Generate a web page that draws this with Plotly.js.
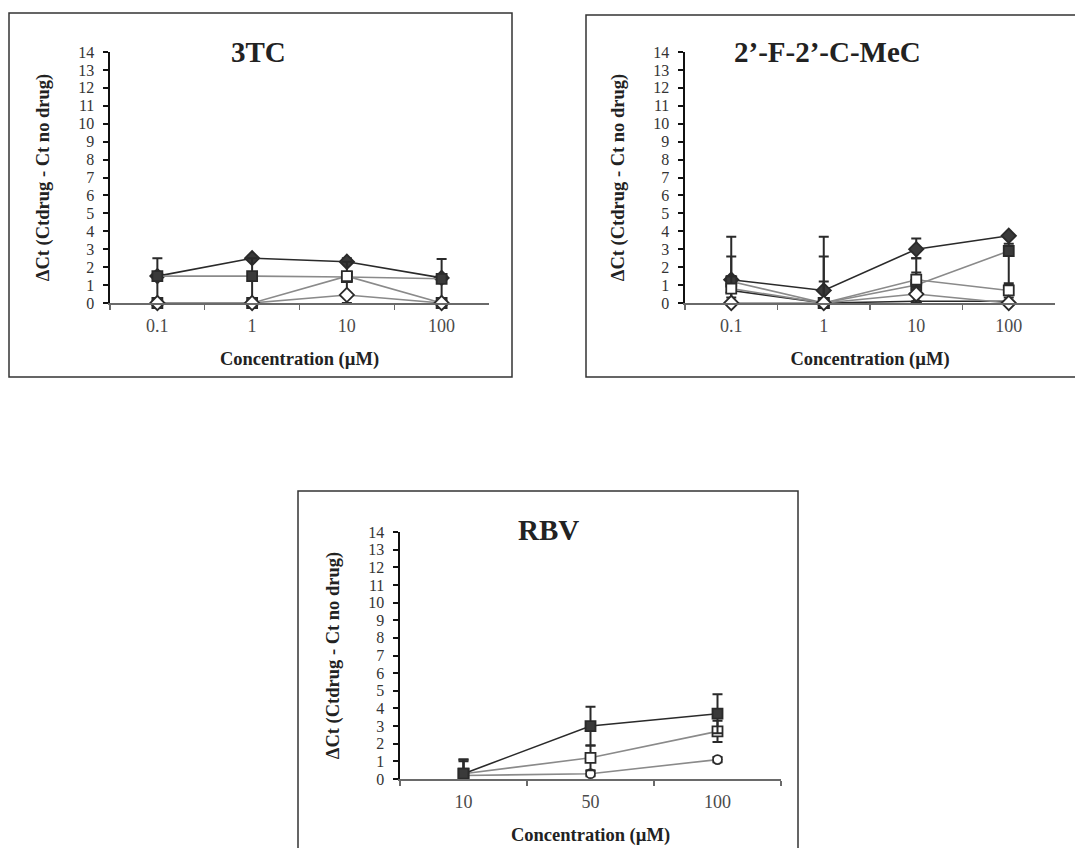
<!DOCTYPE html>
<html><head><meta charset="utf-8">
<script src="https://cdn.plot.ly/plotly-3.0.1.min.js"></script>
<style>html,body{margin:0;padding:0;background:#fff}#chart{width:1075px;height:848px}</style>
</head><body><div id="chart"></div>
<script>
// ---------- categories / tick labels ----------
const conc3TC = ['0.1', '1', '10', '100'];
const concMeC = ['0.1', '1', '10', '100'];
const concRBV = ['10', '50', '100'];

// ---------- panel titles ----------
const title3TC = '3TC';
const titleMeC = '2\u2019-F-2\u2019-C-MeC';
const titleRBV = 'RBV';
const yTitle = '\u0394Ct (Ctdrug - Ct no drug)';
const xTitle = 'Concentration (\u00b5M)';

// ---------- 3TC series ----------
const tc_diamondFilled = [1.5, 2.5, 2.3, 1.4];
const tc_diamondFilled_ep = [0, 0, 0.2, 0];
const tc_diamondFilled_em = [0, 0, 0, 0];
const tc_squareFilled = [1.5, 1.5, 1.45, 1.35];
const tc_squareFilled_ep = [1.0, 1.0, 0.85, 1.1];
const tc_squareFilled_em = [1.5, 1.5, 1.0, 1.35];
const tc_squareOpen = [0, 0, 1.5, 0];
const tc_squareOpen_ep = [0, 0, 0, 0];
const tc_squareOpen_em = [0, 0, 0, 0];
const tc_diamondOpen = [0, 0, 0.45, 0];
const tc_diamondOpen_ep = [0, 0, 0, 0];
const tc_diamondOpen_em = [0, 0, 0.45, 0];

// ---------- 2'-F-2'-C-MeC series ----------
const mc_diamondFilled = [1.3, 0.7, 3.0, 3.75];
const mc_diamondFilled_ep = [2.4, 3.0, 0.6, 0];
const mc_diamondFilled_em = [0, 0, 0.5, 0];
const mc_squareFilled = [1.2, 0, 1.0, 2.9];
const mc_squareFilled_ep = [1.4, 2.6, 1.5, 0.4];
const mc_squareFilled_em = [1.2, 0, 1.0, 1.9];
const mc_triangleFilled = [0.7, 0, 0.1, 0.1];
const mc_triangleFilled_ep = [0, 1.2, 0, 0];
const mc_triangleFilled_em = [0, 0, 0, 0];
const mc_squareOpen = [0.8, 0, 1.3, 0.7];
const mc_squareOpen_ep = [0.7, 0, 0.4, 0.4];
const mc_squareOpen_em = [0.5, 0, 0.4, 0.4];
const mc_diamondOpen = [0, 0, 0.5, 0];
const mc_diamondOpen_ep = [0, 0, 0, 0];
const mc_diamondOpen_em = [0, 0, 0.5, 0];

// ---------- RBV series ----------
const rb_squareFilled = [0.3, 3.0, 3.7];
const rb_squareFilled_ep = [0.8, 1.1, 1.1];
const rb_squareFilled_em = [0.3, 1.1, 1.1];
const rb_squareOpen = [0.3, 1.2, 2.7];
const rb_squareOpen_ep = [0.7, 0.7, 0.6];
const rb_squareOpen_em = [0.3, 0.7, 0.6];
const rb_circleOpen = [0.2, 0.3, 1.1];
const rb_circleOpen_ep = [0.9, 0.15, 0.15];
const rb_circleOpen_em = [0.2, 0.15, 0.15];

// ---------- styling ----------
const FONT = '"Liberation Serif", "Times New Roman", Times, serif';
const DARK = '#2a2a2a';
const GRAY = '#8a8a8a';

function mk(x, y, ep, em, xa, ya, symbol, filled, lineColor, size) {
  return {
    type: 'scatter', mode: 'lines+markers', x: x, y: y,
    xaxis: xa, yaxis: ya, cliponaxis: false, showlegend: false,
    line: {color: lineColor, width: 1.6},
    marker: {symbol: symbol, size: size || 10, color: filled ? '#3a3a3a' : '#ffffff',
             line: {color: DARK, width: 1.8}},
    error_y: {type: 'data', symmetric: false, array: ep, arrayminus: em,
              color: DARK, thickness: 2, width: 5}
  };
}

const traces = [
  // 3TC
  mk(conc3TC, tc_diamondFilled, tc_diamondFilled_ep, tc_diamondFilled_em, 'x', 'y', 'diamond', true, DARK, 11),
  mk(conc3TC, tc_squareFilled, tc_squareFilled_ep, tc_squareFilled_em, 'x', 'y', 'square', true, GRAY),
  mk(conc3TC, tc_squareOpen, tc_squareOpen_ep, tc_squareOpen_em, 'x', 'y', 'square', false, GRAY),
  mk(conc3TC, tc_diamondOpen, tc_diamondOpen_ep, tc_diamondOpen_em, 'x', 'y', 'diamond', false, GRAY, 11),
  // 2'-F-2'-C-MeC
  mk(concMeC, mc_diamondFilled, mc_diamondFilled_ep, mc_diamondFilled_em, 'x2', 'y2', 'diamond', true, DARK, 11),
  mk(concMeC, mc_squareFilled, mc_squareFilled_ep, mc_squareFilled_em, 'x2', 'y2', 'square', true, GRAY),
  mk(concMeC, mc_triangleFilled, mc_triangleFilled_ep, mc_triangleFilled_em, 'x2', 'y2', 'triangle-up', true, DARK, 9),
  mk(concMeC, mc_squareOpen, mc_squareOpen_ep, mc_squareOpen_em, 'x2', 'y2', 'square', false, GRAY),
  mk(concMeC, mc_diamondOpen, mc_diamondOpen_ep, mc_diamondOpen_em, 'x2', 'y2', 'diamond', false, GRAY, 11),
  // RBV
  mk(concRBV, rb_circleOpen, rb_circleOpen_ep, rb_circleOpen_em, 'x3', 'y3', 'circle', false, GRAY, 9),
  mk(concRBV, rb_squareOpen, rb_squareOpen_ep, rb_squareOpen_em, 'x3', 'y3', 'square', false, GRAY),
  mk(concRBV, rb_squareFilled, rb_squareFilled_ep, rb_squareFilled_em, 'x3', 'y3', 'square', true, DARK)
];

const W = 1075, H = 848;
const px = v => v / W;
const py = v => 1 - v / H;

function xAx(dom, n, anchor) {
  return {
    domain: dom, anchor: anchor, type: 'category', range: [-0.5, n - 0.5],
    showline: true, linecolor: '#6a6a6a', linewidth: 1.5,
    ticks: 'outside', tickson: 'boundaries', ticklen: 5, tickcolor: '#6a6a6a', tickwidth: 1.2,
    showgrid: false, zeroline: false, ticklabelstandoff: 6,
    tickfont: {family: FONT, size: 18, color: '#4a4a4a'},
    title: {text: '<b>' + xTitle + '</b>', standoff: 17, font: {family: FONT, size: 18.5, color: '#222'}},
    fixedrange: true
  };
}
function yAx(dom, anchor) {
  return {
    domain: dom, anchor: anchor, range: [0, 14], dtick: 1, tick0: 0,
    showline: true, linecolor: '#111', linewidth: 2.5,
    ticks: 'outside', ticklen: 5, tickwidth: 2, tickcolor: '#111',
    showgrid: false, zeroline: false, ticklabelstandoff: 5,
    tickfont: {family: FONT, size: 16, color: '#333'},
    title: {text: '<b>' + yTitle + '</b>', standoff: 24, font: {family: FONT, size: 18.5, color: '#222'}},
    fixedrange: true
  };
}
function yIn(over, anchor) {
  return {
    overlaying: over, anchor: anchor, range: [0, 14], dtick: 1, tick0: 0,
    showline: false, ticks: 'inside', ticklen: 5, tickwidth: 2, tickcolor: '#111',
    showticklabels: false, showgrid: false, zeroline: false, fixedrange: true
  };
}

const yDomTop = [py(303), py(52)];
const yDomBot = [py(779), py(532)];

const layout = {
  width: W, height: H, margin: {l: 0, r: 0, t: 0, b: 0},
  paper_bgcolor: '#ffffff', plot_bgcolor: 'rgba(0,0,0,0)', showlegend: false,
  xaxis: xAx([px(110), px(489)], 4, 'y'),
  yaxis: yAx(yDomTop, 'x'),
  xaxis2: xAx([px(685), px(1055)], 4, 'y2'),
  yaxis2: yAx(yDomTop, 'x2'),
  xaxis3: xAx([px(400), px(781)], 3, 'y3'),
  yaxis3: yAx(yDomBot, 'x3'),
  yaxis4: yIn('y', 'x'),
  yaxis5: yIn('y2', 'x2'),
  yaxis6: yIn('y3', 'x3'),
  shapes: [
    {type: 'rect', xref: 'paper', yref: 'paper', x0: px(9), x1: px(512), y0: py(377), y1: py(13),
     line: {color: '#333', width: 1.5}},
    {type: 'rect', xref: 'paper', yref: 'paper', x0: px(586), x1: px(1090), y0: py(377), y1: py(15),
     line: {color: '#333', width: 1.5}},
    {type: 'rect', xref: 'paper', yref: 'paper', x0: px(298), x1: px(798), y0: py(860), y1: py(491),
     line: {color: '#333', width: 1.5}}
  ],
  annotations: [
    {text: '<b>' + title3TC + '</b>', xref: 'paper', yref: 'paper', x: px(258), y: py(52),
     xanchor: 'center', yanchor: 'middle', showarrow: false, font: {family: FONT, size: 29, color: '#222'}},
    {text: '<b>' + titleMeC + '</b>', xref: 'paper', yref: 'paper', x: px(827), y: py(52),
     xanchor: 'center', yanchor: 'middle', showarrow: false, font: {family: FONT, size: 29, color: '#222'}},
    {text: '<b>' + titleRBV + '</b>', xref: 'paper', yref: 'paper', x: px(548), y: py(530),
     xanchor: 'center', yanchor: 'middle', showarrow: false, font: {family: FONT, size: 29, color: '#222'}}
  ]
};

Plotly.newPlot('chart', traces, layout, {staticPlot: true, displayModeBar: false});
</script>
</body></html>
